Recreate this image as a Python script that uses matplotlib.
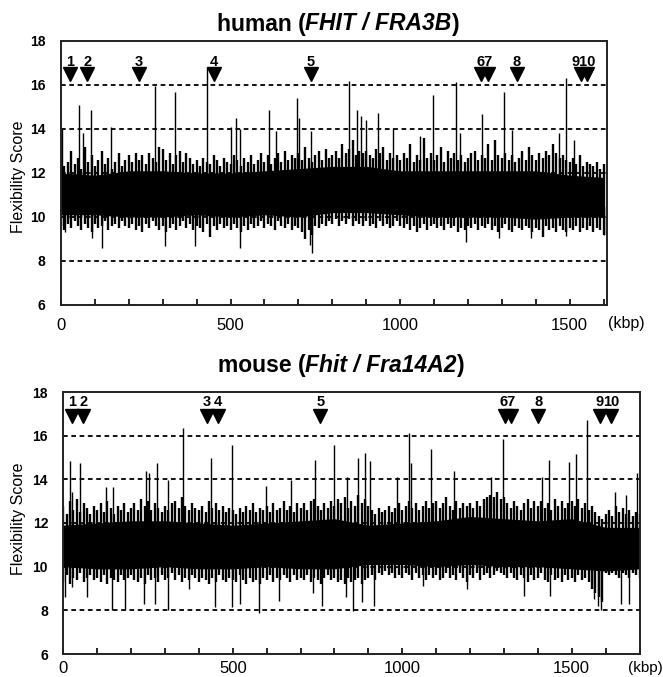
import numpy as np
import matplotlib
matplotlib.use("Agg")
import matplotlib.pyplot as plt

plt.rcParams['font.family'] = ['Liberation Sans', 'DejaVu Sans']

# ---------------- data: human (FHIT / FRA3B) ----------------
human_step = 10          # kbp between fringe samples
human_hi = [
    12.6, 12.3, 12.5, 13.0, 12.4, 12.7, 12.2, 13.2, 12.5, 12.8,
    12.3, 12.6, 13.0, 12.4, 12.7, 12.2, 12.5, 12.9, 12.3, 12.6,
    12.8, 12.5, 12.9, 12.6, 12.8, 12.4, 12.9, 12.7, 12.5, 13.2,
    13.1, 12.6, 12.9, 12.4, 12.8, 13.0, 12.5, 12.9, 12.7, 12.4,
    12.6, 12.3, 12.7, 12.5, 12.4, 12.8, 12.6, 12.3, 12.7, 12.5,
    12.4, 12.8, 12.6, 12.3, 12.7, 12.5, 12.8, 12.4, 12.6, 12.9,
    12.5, 12.8, 12.4, 12.7, 12.9, 12.5, 13.0, 12.6, 12.8, 12.7,
    12.9, 12.6, 13.2, 12.7, 12.5, 12.8, 13.0, 12.6, 13.1, 12.7,
    12.8, 13.0, 12.7, 13.3, 12.9, 13.1, 13.5, 12.8, 13.0, 12.9,
    13.0, 12.8, 12.7, 13.1, 12.9, 13.2, 12.6, 12.9, 12.7, 12.8,
    12.6, 12.9, 12.7, 13.3, 12.5, 12.8, 12.6, 13.6, 12.7, 12.9,
    12.6, 12.8, 13.2, 12.5, 13.0, 12.7, 12.9, 12.6, 12.8, 12.5,
    12.7, 12.9, 13.0, 12.6, 12.8, 12.7, 13.3, 12.6, 13.5, 12.8,
    12.7, 12.9, 12.6, 12.8, 12.5, 12.7, 13.0, 12.6, 13.2, 12.8,
    12.6, 12.9, 12.7, 13.0, 12.8, 13.3, 12.9, 12.7, 12.8, 12.6,
    12.5, 12.7, 12.4, 12.8, 12.3, 12.5, 12.4, 12.3, 12.5, 12.2, 12.4,
]
human_lo = [
    9.6, 9.4, 9.7, 9.5, 9.8, 9.6, 9.4, 9.7, 9.5, 9.3,
    9.7, 9.5, 9.6, 9.8, 9.4, 9.6, 9.7, 9.5, 9.8, 9.6,
    9.5, 9.7, 9.4, 9.6, 9.3, 9.7, 9.5, 9.8, 9.6, 9.4,
    9.6, 9.3, 9.5, 9.7, 9.4, 9.6, 9.8, 9.5, 9.7, 9.4,
    9.6, 9.5, 9.3, 9.7, 9.1, 9.6, 9.4, 9.7, 9.5, 9.6,
    9.4, 9.7, 9.5, 9.3, 9.6, 9.4, 9.7, 9.5, 9.6, 9.8,
    9.5, 9.7, 9.6, 9.4, 9.8, 9.6, 9.5, 9.7, 9.4, 9.6,
    9.5, 9.3, 9.0, 9.4, 9.2, 9.6, 9.5, 9.7, 9.6, 9.8,
    9.7, 9.9, 9.6, 9.8, 9.7, 9.9, 9.6, 9.8, 9.7, 9.6,
    9.8, 9.6, 9.7, 9.5, 9.8, 9.6, 9.7, 9.5, 9.6, 9.8,
    9.6, 9.5, 9.7, 9.4, 9.6, 9.3, 9.5, 9.7, 9.4, 9.6,
    9.7, 9.5, 9.6, 9.4, 9.7, 9.5, 9.6, 9.3, 9.5, 9.4,
    9.6, 9.5, 9.7, 9.4, 9.6, 9.5, 9.7, 9.4, 9.6, 9.3,
    9.5, 9.7, 9.4, 9.3, 9.6, 9.5, 9.4, 9.6, 9.5, 9.3,
    9.5, 9.4, 9.1, 9.6, 9.4, 9.5, 9.3, 9.6, 9.4, 9.3,
    9.5, 9.4, 9.6, 9.3, 9.5, 9.4, 9.6, 9.3, 9.5, 9.4, 9.2,
]
human_core_step = 100
human_core_hi = [12.0, 11.9, 12.1, 12.1, 12.0, 12.0, 12.1, 12.2, 12.3,
                 12.3, 12.1, 12.1, 12.1, 12.1, 12.1, 11.9, 11.8]
human_core_lo = [10.1, 10.1, 10.0, 10.0, 10.1, 10.0, 10.1, 10.0, 10.2,
                 10.2, 10.1, 10.0, 10.0, 10.0, 9.9, 10.0, 10.0]
human_up_pos = [4, 52, 65, 88, 146, 278, 336, 430, 500, 517, 529, 613, 633,
                697, 703, 738, 849, 872, 884, 900, 934, 978, 1060, 1096,
                1164, 1177, 1242, 1305, 1330, 1469, 1488, 1513]
human_up_val = [14.0, 15.1, 13.8, 14.85, 14.1, 15.95, 15.7, 16.8, 14.1, 14.5,
                14.0, 14.85, 13.9, 15.4, 14.5, 13.9, 16.2, 14.85, 14.6, 14.4,
                14.75, 14.05, 13.7, 15.55, 16.15, 13.8, 14.7, 15.7, 13.95,
                13.8, 16.3, 13.5]
human_dn_pos = [12, 91, 121, 308, 395, 529, 735, 741, 1195, 1293, 1386,
                1488, 1600]
human_dn_val = [9.3, 9.05, 8.6, 8.7, 8.7, 8.6, 8.75, 8.35, 8.85, 9.05, 9.05,
                9.15, 9.2]
human_site_pos = [28, 78, 230, 451, 737, 1239, 1259, 1344, 1534, 1550]
human_site_lab = ['1', '2', '3', '4', '5', '6', '7', '8', '9', '10']

# ---------------- data: mouse (Fhit / Fra14A2) ----------------
mouse_step = 10
mouse_hi = [
    12.8, 12.4, 13.0, 12.6, 13.1, 12.5, 12.9, 12.7, 12.4, 12.8,
    12.6, 12.9, 12.5, 13.0, 12.7, 12.4, 12.8, 12.6, 12.9, 12.5,
    12.7, 12.9, 12.6, 13.1, 12.8, 13.0, 12.6, 12.9, 12.7, 12.5,
    12.8, 12.6, 12.9, 13.0, 12.7, 13.2, 12.8, 12.6, 12.9, 12.7,
    12.6, 12.8, 12.5, 13.0, 12.7, 12.9, 12.6, 12.8, 12.5, 12.7,
    12.6, 12.4, 12.7, 12.5, 12.8, 12.6, 12.9, 12.5, 12.7, 12.6,
    12.8, 12.5, 12.9, 12.6, 12.7, 13.0, 12.6, 12.8, 12.5, 12.9,
    12.7, 12.9, 12.6, 13.0, 13.1, 12.8, 12.6, 12.9, 12.7, 13.0,
    12.8, 13.1, 12.9, 13.2, 12.7, 13.0, 12.8, 13.3, 12.9, 13.1,
    12.8, 12.6, 12.4, 12.7, 12.5, 12.6, 12.8, 12.5, 12.7, 12.9,
    12.6, 12.8, 13.0, 12.7, 12.9, 12.6, 12.8, 13.0, 12.7, 12.9,
    13.0, 12.7, 12.9, 13.2, 12.8, 12.6, 13.0, 12.7, 12.9, 12.8,
    12.9, 12.7, 13.0, 12.8, 13.1, 13.2, 13.3, 13.2, 13.4, 13.1,
    13.2, 12.9, 12.7, 13.0, 12.8, 12.6, 12.9, 13.1, 12.7, 13.0,
    12.8, 13.0, 12.7, 12.9, 12.6, 13.1, 12.8, 13.0, 12.7, 12.9,
    13.0, 12.8, 13.1, 12.7, 12.9, 12.6, 12.8, 12.5, 12.3, 12.2,
    12.4, 12.6, 12.3, 12.8, 12.5, 12.7, 12.4, 12.6, 12.3, 12.5, 12.4,
]
mouse_lo = [
    9.3, 9.6, 9.2, 9.5, 9.4, 9.7, 9.3, 9.5, 9.6, 9.4,
    9.5, 9.3, 9.6, 9.2, 9.5, 9.4, 9.3, 9.6, 9.4, 9.5,
    9.6, 9.4, 9.3, 9.5, 9.2, 9.6, 9.4, 9.5, 9.3, 9.6,
    9.4, 9.5, 9.7, 9.4, 9.6, 9.3, 9.5, 9.4, 9.6, 9.5,
    9.3, 9.5, 9.4, 9.2, 9.5, 9.3, 9.6, 9.4, 9.3, 9.5,
    9.4, 9.3, 9.6, 9.4, 9.2, 9.5, 9.3, 9.4, 9.2, 9.5,
    9.4, 9.6, 9.3, 9.5, 9.4, 9.6, 9.5, 9.3, 9.6, 9.4,
    9.5, 9.4, 9.6, 9.3, 9.5, 9.4, 9.2, 9.5, 9.6, 9.4,
    9.5, 9.3, 9.4, 9.2, 9.5, 9.3, 9.4, 9.5, 9.2, 9.4,
    9.5, 9.6, 9.4, 9.7, 9.6, 9.8, 9.6, 9.7, 9.5, 9.6,
    9.5, 9.7, 9.6, 9.4, 9.7, 9.5, 9.6, 9.4, 9.6, 9.5,
    9.6, 9.4, 9.5, 9.7, 9.5, 9.6, 9.4, 9.7, 9.5, 9.3,
    9.6, 9.5, 9.7, 9.4, 9.6, 9.7, 9.5, 9.6, 9.8, 9.7,
    9.6, 9.5, 9.7, 9.5, 9.4, 9.6, 9.5, 9.3, 9.6, 9.4,
    9.5, 9.7, 9.4, 9.3, 9.6, 9.4, 9.5, 9.3, 9.6, 9.4,
    9.5, 9.3, 9.6, 9.4, 9.5, 9.3, 9.0, 8.8, 8.6, 8.4,
    9.7, 9.6, 9.7, 9.6, 9.5, 9.7, 9.6, 9.5, 9.7, 9.6, 9.5,
]
mouse_core_step = 100
mouse_core_hi = [11.9, 12.0, 12.1, 12.1, 12.0, 11.9, 12.0, 12.1, 12.2,
                 11.9, 12.0, 12.1, 12.3, 12.2, 12.1, 12.2, 11.8, 11.8]
mouse_core_lo = [10.0, 9.9, 9.9, 10.0, 9.9, 9.9, 10.0, 9.9, 9.9,
                 10.1, 10.1, 10.0, 10.1, 10.0, 10.0, 9.9, 9.8, 9.9]
mouse_up_pos = [19, 27, 50, 125, 147, 243, 252, 277, 310, 352, 436, 497, 597,
                672, 743, 799, 836, 868, 889, 905, 986, 1019, 1026, 1084,
                1152, 1261, 1298, 1411, 1433, 1492, 1513, 1546, 1629, 1660,
                1692]
mouse_up_val = [14.86, 13.4, 14.74, 13.65, 13.65, 14.4, 14.3, 14.74, 13.98,
                16.33, 15.0, 15.55, 13.7, 13.95, 14.9, 15.55, 14.1, 15.0,
                15.2, 14.86, 14.1, 16.1, 14.74, 15.4, 14.4, 14.1, 15.83, 14.1,
                14.9, 14.8, 15.17, 16.7, 13.4, 13.3, 14.3]
mouse_dn_pos = [6, 25, 71, 144, 181, 237, 272, 310, 372, 447, 499, 522, 577,
                637, 737, 764, 834, 855, 880, 918, 1061, 1192, 1358, 1436,
                1565, 1578, 1586, 1646, 1670]
mouse_dn_val = [8.6, 9.05, 8.6, 8.0, 8.0, 8.3, 8.3, 8.0, 8.97, 8.14, 8.14,
                8.3, 7.9, 8.45, 8.8, 8.2, 8.6, 7.95, 8.4, 8.2, 9.1, 8.97,
                8.67, 8.67, 8.5, 8.2, 8.0, 8.3, 8.3]
mouse_site_pos = [25, 59, 423, 457, 758, 1302, 1320, 1402, 1583, 1617]
mouse_site_lab = ['1', '2', '3', '4', '5', '6', '7', '8', '9', '10']

# ---------------- figure ----------------
W, H = 663, 677
fig = plt.figure(figsize=(W / 100, H / 100), dpi=100)


def px_rect(l, r, t, b):
    return [l / W, 1 - b / H, (r - l) / W, (b - t) / H]


def site_labels(pos, lab, gap):
    """Merge labels of sites that sit closer than `gap` kbp into one text."""
    groups = []
    for p, s in zip(pos, lab):
        if groups and p - groups[-1][0][-1] < gap:
            groups[-1][0].append(p)
            groups[-1][1].append(s)
        else:
            groups.append(([p], [s]))
    return [(np.mean(g[0]), ''.join(g[1])) for g in groups]


def draw_panel(ax, xmax, step, hi, lo, core_step, core_hi, core_lo,
               up_pos, up_val, dn_pos, dn_val, site_pos, site_lab,
               site_y, lab_y, xpad):
    x = np.arange(len(hi)) * step
    cx = np.arange(len(core_hi)) * core_step
    for yv in [8, 10, 12, 14, 16]:
        ax.axhline(yv, color='black', lw=1.3, ls=(0, (2.6, 2.0)), zorder=1)
    ax.fill_between(cx, core_lo, core_hi, color='black', lw=0, zorder=2)
    ax.vlines(x, lo, hi, color='black', lw=1.7, zorder=2)
    ax.vlines(up_pos, 11.5, up_val, color='black', lw=1.0, zorder=2)
    ax.vlines(dn_pos, dn_val, 10.5, color='black', lw=1.0, zorder=2)
    ax.plot(site_pos, [site_y] * len(site_pos), linestyle='none', marker='v',
            ms=9.5, color='black', zorder=3)
    for p, s in site_labels(site_pos, site_lab, 25):
        ax.text(p, lab_y, s, ha='center', va='center', fontsize=10.5,
                fontweight='bold', zorder=3)
    ax.set_xlim(0, xmax)
    ax.set_ylim(6, 18)
    ax.set_yticks([6, 8, 10, 12, 14, 16, 18])
    ax.set_xticks([0, 500, 1000, 1500])
    ax.set_xticks(np.arange(0, xmax + 1, 100), minor=True)
    ax.tick_params(axis='x', which='both', direction='in', length=4,
                   width=1.2, pad=xpad, labelsize=12)
    ax.tick_params(axis='y', which='both', length=0, pad=11, labelsize=10)
    for lab in ax.get_yticklabels():
        lab.set_fontweight('bold')
    for sp in ax.spines.values():
        sp.set_linewidth(1.4)
        sp.set_color('#222222')


ax1 = fig.add_axes(px_rect(61, 607, 41, 305))
draw_panel(ax1, 1610, human_step, human_hi, human_lo, human_core_step,
           human_core_hi, human_core_lo, human_up_pos, human_up_val,
           human_dn_pos, human_dn_val, human_site_pos, human_site_lab,
           16.5, 17.05, 9)

ax2 = fig.add_axes(px_rect(63.3, 639.5, 392, 654))
draw_panel(ax2, 1700, mouse_step, mouse_hi, mouse_lo, mouse_core_step,
           mouse_core_hi, mouse_core_lo, mouse_up_pos, mouse_up_val,
           mouse_dn_pos, mouse_dn_val, mouse_site_pos, mouse_site_lab,
           16.9, 17.55, 5)

# y labels
fig.text(19 / W, 1 - 177 / H, 'Flexibility Score', rotation=90, ha='center',
         va='center', fontsize=11.5)
fig.text(19 / W, 1 - 519 / H, 'Flexibility Score', rotation=90, ha='center',
         va='center', fontsize=11.5)
# (kbp)
fig.text(608 / W, 1 - 324 / H, '(kbp)', ha='left', va='center', fontsize=11.5)
fig.text(628 / W, 1 - 668 / H, '(kbp)', ha='left', va='center', fontsize=11)

# rich titles
renderer = fig.canvas.get_renderer()


def rich_title(xc_px, yc_px, pieces, size=16.5):
    texts = []
    widths = []
    for s, style in pieces:
        t = fig.text(0, 1 - yc_px / H, s, fontsize=size, fontweight='bold',
                     fontstyle=style, va='center', ha='left')
        texts.append(t)
        widths.append(t.get_window_extent(renderer).width)
    x = xc_px - sum(widths) / 2
    for t, w in zip(texts, widths):
        t.set_x(x / W)
        x += w


rich_title(338, 24, [('human (', 'normal'), ('FHIT / FRA3B', 'italic'),
                     (')', 'normal')])
rich_title(341, 366, [('mouse (', 'normal'), ('Fhit / Fra14A2', 'italic'),
                      (')', 'normal')])

fig.savefig('out.png', dpi=100)
